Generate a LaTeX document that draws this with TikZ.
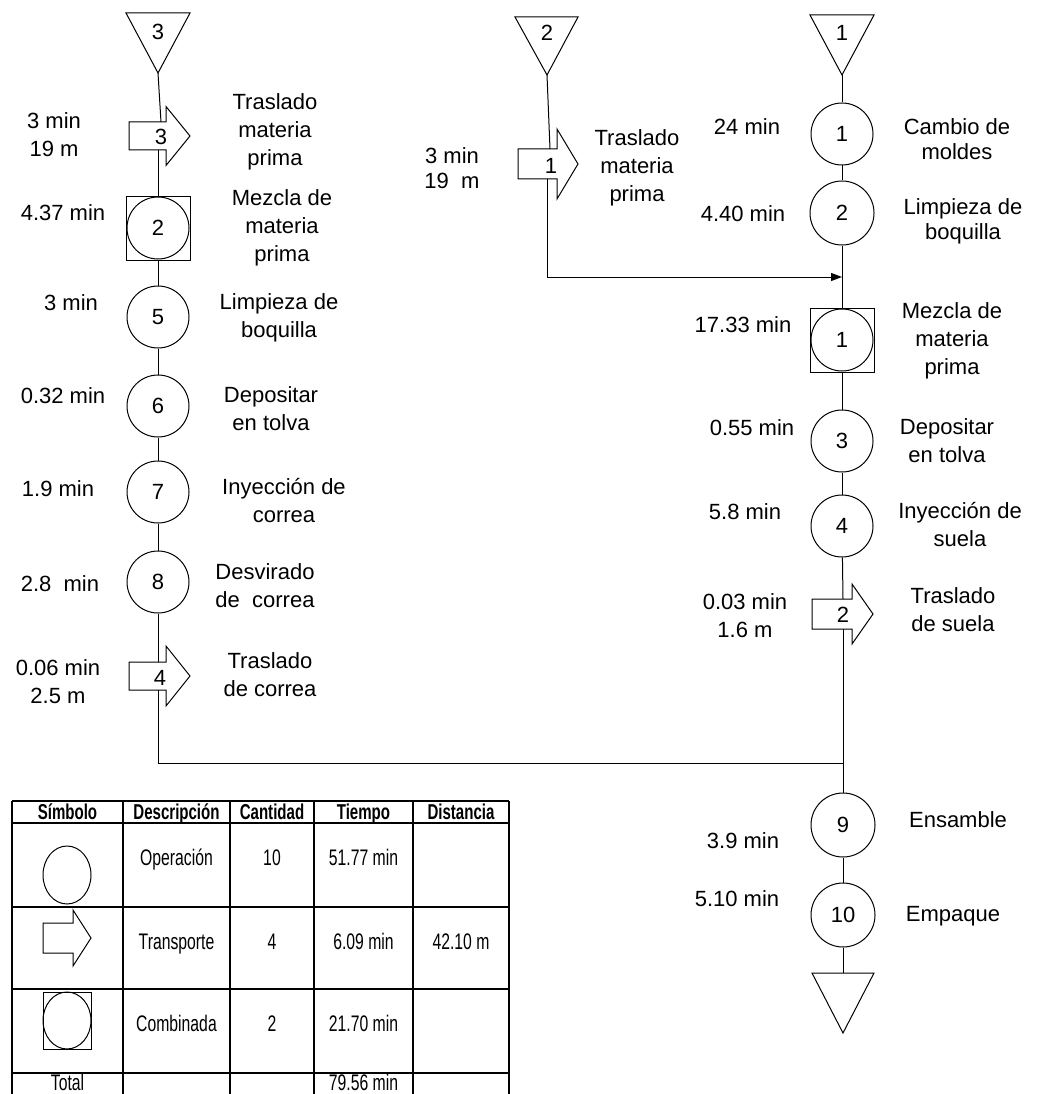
\documentclass[tikz,border=0pt]{standalone}
\usepackage{fontspec}
\setmainfont{Liberation Sans}
\newfontfamily\narrowf[FakeStretch=0.7]{Liberation Sans}
\usetikzlibrary{arrows.meta,calc}
\newcommand\TrShape[6]{\draw[ln,fill=white] (#1,#4-#5) -- (#2,#4-#5) -- (#2,#4-#6) -- (#3,#4) -- (#2,#4+#6) -- (#2,#4+#5) -- (#1,#4+#5) -- cycle;}
\begin{document}
\begin{tikzpicture}[x=1pt,y=-1pt,
 ln/.style={line width=1pt},
 lbl/.style={font=\fontsize{22}{28}\selectfont, align=center, inner sep=0pt},
 one/.style={lbl, text height=16pt, text depth=0pt},
 opc/.style={draw, ln, circle, minimum size=62pt, inner sep=0pt, font=\fontsize{22}{28}\selectfont},
 combo/.style={draw, ln, rectangle, minimum size=64pt, inner sep=0pt},
 num/.style={inner sep=0pt, font=\fontsize{22}{28}\selectfont, text height=16pt, text depth=0pt},
 tab/.style={line width=1.3pt},
 tt/.style={font=\narrowf\fontsize{22.5}{26}\selectfont, inner sep=0pt, text height=16pt, text depth=0pt},
 th/.style={font=\narrowf\bfseries\fontsize{21.5}{25}\selectfont, inner sep=0pt, text height=15.5pt, text depth=0pt},
 flow/.style={ln},
]
\useasboundingbox (0,0) rectangle (1043,1094);

% ---------- left column ----------
\draw[ln] (126,13) -- (190,13) -- (158,73) -- cycle;
\node[num] (tA) at (158,32) {3};
\coordinate (tAa) at (158,73);
\TrShape{129}{166}{190}{136}{14}{29.5}
\node[num] (aA3) at (161,137) {3};
\coordinate (aA3t) at (161,122);
\coordinate (aA3b) at (158,150);
\node[opc] (ciL) at (158,228) {2};
\node[combo] (sqL) at (158,228) {};
\node[opc] (c5) at (158,317) {5};
\node[opc] (c6) at (158,406) {6};
\node[opc] (c7) at (158,492) {7};
\node[opc] (c8) at (158,582) {8};
\TrShape{129}{166}{190}{676}{14}{30}
\node[num] (aA4) at (160,677) {4};
\coordinate (aA4t) at (158,662);
\coordinate (aA4b) at (158,690);
\coordinate (jL) at (158,763);

\draw[flow] (tAa) -- (aA3t);
\draw[flow] (aA3b) -- (sqL.north);
\draw[flow] (sqL.south) -- (c5);
\draw[flow] (c5) -- (c6);
\draw[flow] (c6) -- (c7);
\draw[flow] (c7) -- (c8);
\draw[flow] (c8) -- (aA4t);

\node[lbl] (lA1) at (54,135) {3 min\\19 m};
\node[lbl] (rA1) at (275,132) {Traslado\\materia\\prima};
\node[one] (lA2) at (63,212) {4.37 min};
\node[lbl] (rA2) at (282,228) {Mezcla de\\materia\\prima};
\node[one] (lA3) at (71,302) {3 min};
\node[lbl] (rA3) at (279,318) {Limpieza de\\boquilla};
\node[one] (lA4) at (63,395) {0.32 min};
\node[lbl] (rA4) at (271,409) {Depositar\\en tolva};
\node[one] (lA5) at (58,488) {1.9 min};
\node[lbl] (rA5) at (284,501) {Inyección de\\correa};
\node[one] (lA6) at (60,583) {2.8 \ min};
\node[lbl] (rA6) at (265,586) {Desvirado\\de \ correa};
\node[lbl] (lA7) at (58,682) {0.06 min\\2.5 m};
\node[lbl] (rA7) at (270,675) {Traslado\\de correa};

% ---------- middle column ----------
\draw[ln] (515,17) -- (578,17) -- (547,75) -- cycle;
\node[num] (tB) at (547,33) {2};
\coordinate (tBa) at (547,75);
\TrShape{518}{557}{578}{164}{15}{35}
\node[num] (aB1) at (551,166) {1};
\coordinate (aB1t) at (550,149);
\coordinate (aB1b) at (547,179);
\coordinate (mB) at (547,277);

\node[lbl, font=\fontsize{22}{25}\selectfont] (lB1) at (452,168) {3 min\\19 \ m};
\node[lbl] (rB1) at (637,168) {Traslado\\materia\\prima};

% ---------- right column ----------
\draw[ln] (810,15) -- (874,15) -- (842,75) -- cycle;
\node[num] (tC) at (842,33) {1};
\coordinate (tCa) at (842,75);
\node[opc] (c1) at (842,134) {1};
\node[opc, minimum size=64pt] (c2) at (842,213) {2};
\coordinate (mR) at (842,277);
\node[opc] (ciR) at (842,340) {1};
\node[combo] (sqR) at (842,340) {};
\node[opc] (c3) at (842,441) {3};
\node[opc] (c4) at (842,526) {4};
\TrShape{812}{852}{873}{614}{15}{30}
\node[num] (aC2) at (843,614) {2};
\coordinate (aC2t) at (843,599);
\coordinate (aC2b) at (843,629);
\coordinate (jR) at (843,763);
\node[opc, minimum size=64pt] (c9) at (843,825) {9};
\node[opc, minimum size=64pt] (c10) at (843,915) {10};
\draw[ln] (812,973) -- (874,973) -- (843,1033) -- cycle;
\coordinate (tEnd) at (843,973);

\draw[flow] (tBa) -- (aB1t);
\draw[flow] (aB1b) -- (mB);
\draw[ln, -{Triangle[length=11pt,width=8pt]}] (mB) -- (mR);
\draw[flow] (tCa) -- (c1);
\draw[flow] (c1) -- (c2);
\draw[flow] (c2) -- (sqR.north);
\draw[flow] (sqR.south) -- (c3);
\draw[flow] (c3) -- (c4);
\draw[flow] (c4) -- (aC2t);
\draw[flow] (aC2b) -- (jR);
\draw[flow] (aA4b) -- (jL) -- (jR);
\draw[flow] (jR) -- (c9);
\draw[flow] (c9) -- (c10);
\draw[flow] (c10) -- (tEnd);

\node[one] (lC1) at (747,127) {24 min};
\node[lbl, font=\fontsize{22}{25}\selectfont] (rC1) at (957,139) {Cambio de\\moldes};
\node[one] (lC2) at (743,213) {4.40 min};
\node[lbl, font=\fontsize{22}{25}\selectfont] (rC2) at (963,221) {Limpieza de\\boquilla};
\node[one] (lC3) at (743,324) {17.33 min};
\node[lbl] (rC3) at (952,341) {Mezcla de\\materia\\prima};
\node[one] (lC4) at (752,427) {0.55 min};
\node[lbl] (rC4) at (947,441) {Depositar\\en tolva};
\node[one] (lC5) at (745,511) {5.8 min};
\node[lbl] (rC5) at (960,525) {Inyección de\\suela};
\node[lbl] (lC6) at (745,616) {0.03 min\\1.6 m};
\node[lbl] (rC6) at (953,610) {Traslado\\de suela};
\node[one] (rC9) at (958,819) {Ensamble};
\node[one] (lC9) at (743,840) {3.9 min};
\node[one] (lC10) at (737,898) {5.10 min};
\node[one] (rC10) at (953,913) {Empaque};

% ---------- table ----------
\foreach \yy in {801,823,907,989,1073} \draw[tab] (12,\yy) -- (509,\yy);
\foreach \xx in {12,123,230,314,413,509} \draw[tab] (\xx,801) -- (\xx,1094);

\node[th] (h1) at (67.5,812) {Símbolo};
\node[th] (h2) at (176.5,812) {Descripción};
\node[th] (h3) at (272,812) {Cantidad};
\node[th] (h4) at (363.5,812) {Tiempo};
\node[th] (h5) at (461,812) {Distancia};

\draw[ln] (67,875) ellipse [x radius=24, y radius=29];
\TrShape{43}{73}{91}{938}{15}{28}
\draw[ln] (43,992) rectangle (91,1049);
\draw[ln] (67,1020.5) ellipse [x radius=24, y radius=28.5];

\node[tt] (d1) at (176.5,857) {Operación};
\node[tt] (q1) at (272,857) {10};
\node[tt] (m1) at (363.5,857) {51.77 min};
\node[tt] (d2) at (176.5,941) {Transporte};
\node[tt] (q2) at (272,941) {4};
\node[tt] (m2) at (363.5,941) {6.09 min};
\node[tt] (k2) at (461,941) {42.10 m};
\node[tt] (d3) at (176.5,1023) {Combinada};
\node[tt] (q3) at (272,1023) {2};
\node[tt] (m3) at (363.5,1023) {21.70 min};
\node[tt] (tot) at (67.5,1082.5) {Total};
\node[tt] (m4) at (363.5,1082.5) {79.56 min};
\end{tikzpicture}
\end{document}
